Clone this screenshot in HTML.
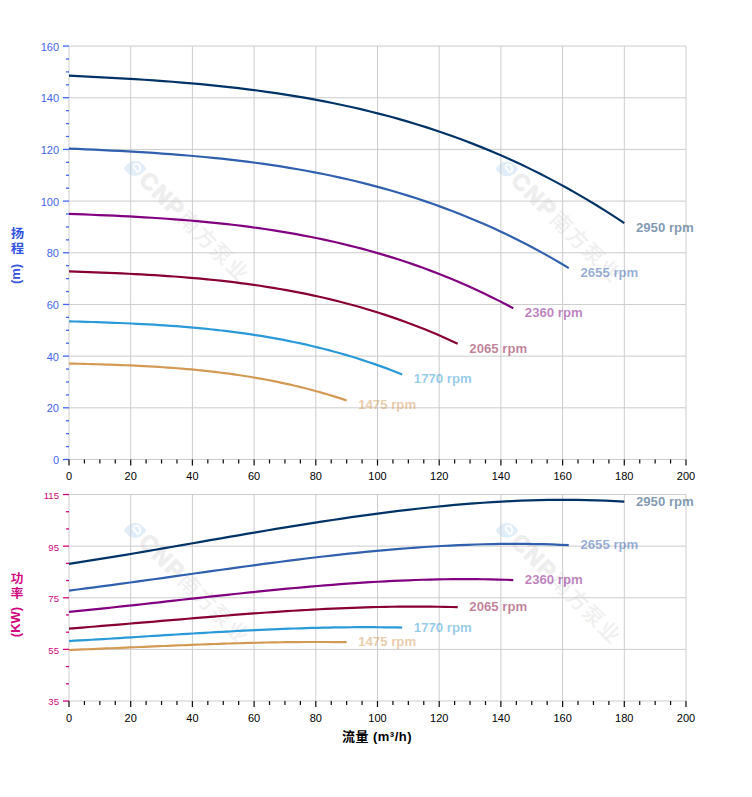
<!DOCTYPE html><html><head><meta charset="utf-8"><title>CNP</title><style>
html,body{margin:0;padding:0;background:#fff;}body{width:752px;height:797px;overflow:hidden;}
svg{display:block;}
.t{font-family:"Liberation Sans",Arial,sans-serif;}
.c{font-family:"Liberation Sans","Noto Sans CJK SC",sans-serif;}
</style></head><body>
<svg width="752" height="797" viewBox="0 0 752 797">
<rect width="752" height="797" fill="#fff"/>
<g transform="translate(135.0 167.0)"><path d="M-11.2 1.5 C-8 -3.5,-4.5 -6,0 -6 C4.5 -6,8 -3.5,11.2 1.5 C8 6.2,4.5 8.8,0 8.8 C-4.5 8.8,-8 6.2,-11.2 1.5Z" fill="#e1edf8"/><path d="M-2 -0.6 L3 5.6 M-1.8 -1.4 C-0.2 -4.2,4.6 -3.8,5.2 1 C5.4 3,4.4 4.2,3.4 4.4" fill="none" stroke="#fff" stroke-width="1.8"/><g transform="rotate(45)"><text x="12" y="8.2" class="t" font-size="23" font-weight="bold" letter-spacing="1.8" fill="#eeeeee" stroke="#eeeeee" stroke-width="1">CNP</text><text x="67" y="8" class="c" font-size="21" font-weight="500" letter-spacing="1.5" fill="#efefef">南方泵业</text></g></g>
<g transform="translate(507.0 167.5)"><path d="M-11.2 1.5 C-8 -3.5,-4.5 -6,0 -6 C4.5 -6,8 -3.5,11.2 1.5 C8 6.2,4.5 8.8,0 8.8 C-4.5 8.8,-8 6.2,-11.2 1.5Z" fill="#e1edf8"/><path d="M-2 -0.6 L3 5.6 M-1.8 -1.4 C-0.2 -4.2,4.6 -3.8,5.2 1 C5.4 3,4.4 4.2,3.4 4.4" fill="none" stroke="#fff" stroke-width="1.8"/><g transform="rotate(45)"><text x="12" y="8.2" class="t" font-size="23" font-weight="bold" letter-spacing="1.8" fill="#eeeeee" stroke="#eeeeee" stroke-width="1">CNP</text><text x="67" y="8" class="c" font-size="21" font-weight="500" letter-spacing="1.5" fill="#efefef">南方泵业</text></g></g>
<g transform="translate(135.0 529.0)"><path d="M-11.2 1.5 C-8 -3.5,-4.5 -6,0 -6 C4.5 -6,8 -3.5,11.2 1.5 C8 6.2,4.5 8.8,0 8.8 C-4.5 8.8,-8 6.2,-11.2 1.5Z" fill="#e1edf8"/><path d="M-2 -0.6 L3 5.6 M-1.8 -1.4 C-0.2 -4.2,4.6 -3.8,5.2 1 C5.4 3,4.4 4.2,3.4 4.4" fill="none" stroke="#fff" stroke-width="1.8"/><g transform="rotate(45)"><text x="12" y="8.2" class="t" font-size="23" font-weight="bold" letter-spacing="1.8" fill="#eeeeee" stroke="#eeeeee" stroke-width="1">CNP</text><text x="67" y="8" class="c" font-size="21" font-weight="500" letter-spacing="1.5" fill="#efefef">南方泵业</text></g></g>
<g transform="translate(507.0 529.0)"><path d="M-11.2 1.5 C-8 -3.5,-4.5 -6,0 -6 C4.5 -6,8 -3.5,11.2 1.5 C8 6.2,4.5 8.8,0 8.8 C-4.5 8.8,-8 6.2,-11.2 1.5Z" fill="#e1edf8"/><path d="M-2 -0.6 L3 5.6 M-1.8 -1.4 C-0.2 -4.2,4.6 -3.8,5.2 1 C5.4 3,4.4 4.2,3.4 4.4" fill="none" stroke="#fff" stroke-width="1.8"/><g transform="rotate(45)"><text x="12" y="8.2" class="t" font-size="23" font-weight="bold" letter-spacing="1.8" fill="#eeeeee" stroke="#eeeeee" stroke-width="1">CNP</text><text x="67" y="8" class="c" font-size="21" font-weight="500" letter-spacing="1.5" fill="#efefef">南方泵业</text></g></g>
<g stroke="#cccccc" stroke-width="1" fill="none"><line x1="69.00" y1="46.06" x2="69.00" y2="459.50"/><line x1="69.00" y1="494.52" x2="69.00" y2="701.00"/><line x1="130.70" y1="46.06" x2="130.70" y2="459.50"/><line x1="130.70" y1="494.52" x2="130.70" y2="701.00"/><line x1="192.40" y1="46.06" x2="192.40" y2="459.50"/><line x1="192.40" y1="494.52" x2="192.40" y2="701.00"/><line x1="254.10" y1="46.06" x2="254.10" y2="459.50"/><line x1="254.10" y1="494.52" x2="254.10" y2="701.00"/><line x1="315.80" y1="46.06" x2="315.80" y2="459.50"/><line x1="315.80" y1="494.52" x2="315.80" y2="701.00"/><line x1="377.50" y1="46.06" x2="377.50" y2="459.50"/><line x1="377.50" y1="494.52" x2="377.50" y2="701.00"/><line x1="439.20" y1="46.06" x2="439.20" y2="459.50"/><line x1="439.20" y1="494.52" x2="439.20" y2="701.00"/><line x1="500.90" y1="46.06" x2="500.90" y2="459.50"/><line x1="500.90" y1="494.52" x2="500.90" y2="701.00"/><line x1="562.60" y1="46.06" x2="562.60" y2="459.50"/><line x1="562.60" y1="494.52" x2="562.60" y2="701.00"/><line x1="624.30" y1="46.06" x2="624.30" y2="459.50"/><line x1="624.30" y1="494.52" x2="624.30" y2="701.00"/><line x1="686.00" y1="46.06" x2="686.00" y2="459.50"/><line x1="686.00" y1="494.52" x2="686.00" y2="701.00"/><line x1="69.00" y1="459.50" x2="686.00" y2="459.50"/><line x1="69.00" y1="407.82" x2="686.00" y2="407.82"/><line x1="69.00" y1="356.14" x2="686.00" y2="356.14"/><line x1="69.00" y1="304.46" x2="686.00" y2="304.46"/><line x1="69.00" y1="252.78" x2="686.00" y2="252.78"/><line x1="69.00" y1="201.10" x2="686.00" y2="201.10"/><line x1="69.00" y1="149.42" x2="686.00" y2="149.42"/><line x1="69.00" y1="97.74" x2="686.00" y2="97.74"/><line x1="69.00" y1="46.06" x2="686.00" y2="46.06"/><line x1="69.00" y1="701.00" x2="686.00" y2="701.00"/><line x1="69.00" y1="649.38" x2="686.00" y2="649.38"/><line x1="69.00" y1="597.76" x2="686.00" y2="597.76"/><line x1="69.00" y1="546.14" x2="686.00" y2="546.14"/><line x1="69.00" y1="494.52" x2="686.00" y2="494.52"/></g>
<g stroke="#4466ee" stroke-width="1.3"><line x1="63.00" y1="459.50" x2="69.00" y2="459.50"/><line x1="66.00" y1="446.58" x2="69.00" y2="446.58"/><line x1="66.00" y1="433.66" x2="69.00" y2="433.66"/><line x1="66.00" y1="420.74" x2="69.00" y2="420.74"/><line x1="63.00" y1="407.82" x2="69.00" y2="407.82"/><line x1="66.00" y1="394.90" x2="69.00" y2="394.90"/><line x1="66.00" y1="381.98" x2="69.00" y2="381.98"/><line x1="66.00" y1="369.06" x2="69.00" y2="369.06"/><line x1="63.00" y1="356.14" x2="69.00" y2="356.14"/><line x1="66.00" y1="343.22" x2="69.00" y2="343.22"/><line x1="66.00" y1="330.30" x2="69.00" y2="330.30"/><line x1="66.00" y1="317.38" x2="69.00" y2="317.38"/><line x1="63.00" y1="304.46" x2="69.00" y2="304.46"/><line x1="66.00" y1="291.54" x2="69.00" y2="291.54"/><line x1="66.00" y1="278.62" x2="69.00" y2="278.62"/><line x1="66.00" y1="265.70" x2="69.00" y2="265.70"/><line x1="63.00" y1="252.78" x2="69.00" y2="252.78"/><line x1="66.00" y1="239.86" x2="69.00" y2="239.86"/><line x1="66.00" y1="226.94" x2="69.00" y2="226.94"/><line x1="66.00" y1="214.02" x2="69.00" y2="214.02"/><line x1="63.00" y1="201.10" x2="69.00" y2="201.10"/><line x1="66.00" y1="188.18" x2="69.00" y2="188.18"/><line x1="66.00" y1="175.26" x2="69.00" y2="175.26"/><line x1="66.00" y1="162.34" x2="69.00" y2="162.34"/><line x1="63.00" y1="149.42" x2="69.00" y2="149.42"/><line x1="66.00" y1="136.50" x2="69.00" y2="136.50"/><line x1="66.00" y1="123.58" x2="69.00" y2="123.58"/><line x1="66.00" y1="110.66" x2="69.00" y2="110.66"/><line x1="63.00" y1="97.74" x2="69.00" y2="97.74"/><line x1="66.00" y1="84.82" x2="69.00" y2="84.82"/><line x1="66.00" y1="71.90" x2="69.00" y2="71.90"/><line x1="66.00" y1="58.98" x2="69.00" y2="58.98"/><line x1="63.00" y1="46.06" x2="69.00" y2="46.06"/></g>
<g stroke="#d0087f" stroke-width="1.3"><line x1="63.00" y1="701.00" x2="69.00" y2="701.00"/><line x1="66.00" y1="683.79" x2="69.00" y2="683.79"/><line x1="66.00" y1="666.59" x2="69.00" y2="666.59"/><line x1="63.00" y1="649.38" x2="69.00" y2="649.38"/><line x1="66.00" y1="632.17" x2="69.00" y2="632.17"/><line x1="66.00" y1="614.97" x2="69.00" y2="614.97"/><line x1="63.00" y1="597.76" x2="69.00" y2="597.76"/><line x1="66.00" y1="580.55" x2="69.00" y2="580.55"/><line x1="66.00" y1="563.35" x2="69.00" y2="563.35"/><line x1="63.00" y1="546.14" x2="69.00" y2="546.14"/><line x1="66.00" y1="528.93" x2="69.00" y2="528.93"/><line x1="66.00" y1="511.73" x2="69.00" y2="511.73"/><line x1="63.00" y1="494.52" x2="69.00" y2="494.52"/></g>
<g stroke="#111" stroke-width="1.25"><line x1="69.00" y1="459.50" x2="69.00" y2="465.50"/><line x1="84.42" y1="459.50" x2="84.42" y2="463.50"/><line x1="99.85" y1="459.50" x2="99.85" y2="463.50"/><line x1="115.28" y1="459.50" x2="115.28" y2="463.50"/><line x1="130.70" y1="459.50" x2="130.70" y2="465.50"/><line x1="146.12" y1="459.50" x2="146.12" y2="463.50"/><line x1="161.55" y1="459.50" x2="161.55" y2="463.50"/><line x1="176.97" y1="459.50" x2="176.97" y2="463.50"/><line x1="192.40" y1="459.50" x2="192.40" y2="465.50"/><line x1="207.82" y1="459.50" x2="207.82" y2="463.50"/><line x1="223.25" y1="459.50" x2="223.25" y2="463.50"/><line x1="238.68" y1="459.50" x2="238.68" y2="463.50"/><line x1="254.10" y1="459.50" x2="254.10" y2="465.50"/><line x1="269.52" y1="459.50" x2="269.52" y2="463.50"/><line x1="284.95" y1="459.50" x2="284.95" y2="463.50"/><line x1="300.38" y1="459.50" x2="300.38" y2="463.50"/><line x1="315.80" y1="459.50" x2="315.80" y2="465.50"/><line x1="331.23" y1="459.50" x2="331.23" y2="463.50"/><line x1="346.65" y1="459.50" x2="346.65" y2="463.50"/><line x1="362.07" y1="459.50" x2="362.07" y2="463.50"/><line x1="377.50" y1="459.50" x2="377.50" y2="465.50"/><line x1="392.93" y1="459.50" x2="392.93" y2="463.50"/><line x1="408.35" y1="459.50" x2="408.35" y2="463.50"/><line x1="423.77" y1="459.50" x2="423.77" y2="463.50"/><line x1="439.20" y1="459.50" x2="439.20" y2="465.50"/><line x1="454.62" y1="459.50" x2="454.62" y2="463.50"/><line x1="470.05" y1="459.50" x2="470.05" y2="463.50"/><line x1="485.48" y1="459.50" x2="485.48" y2="463.50"/><line x1="500.90" y1="459.50" x2="500.90" y2="465.50"/><line x1="516.33" y1="459.50" x2="516.33" y2="463.50"/><line x1="531.75" y1="459.50" x2="531.75" y2="463.50"/><line x1="547.17" y1="459.50" x2="547.17" y2="463.50"/><line x1="562.60" y1="459.50" x2="562.60" y2="465.50"/><line x1="578.02" y1="459.50" x2="578.02" y2="463.50"/><line x1="593.45" y1="459.50" x2="593.45" y2="463.50"/><line x1="608.88" y1="459.50" x2="608.88" y2="463.50"/><line x1="624.30" y1="459.50" x2="624.30" y2="465.50"/><line x1="639.73" y1="459.50" x2="639.73" y2="463.50"/><line x1="655.15" y1="459.50" x2="655.15" y2="463.50"/><line x1="670.58" y1="459.50" x2="670.58" y2="463.50"/><line x1="686.00" y1="459.50" x2="686.00" y2="465.50"/></g>
<g stroke="#111" stroke-width="1.25"><line x1="69.00" y1="701.00" x2="69.00" y2="707.00"/><line x1="84.42" y1="701.00" x2="84.42" y2="705.00"/><line x1="99.85" y1="701.00" x2="99.85" y2="705.00"/><line x1="115.28" y1="701.00" x2="115.28" y2="705.00"/><line x1="130.70" y1="701.00" x2="130.70" y2="707.00"/><line x1="146.12" y1="701.00" x2="146.12" y2="705.00"/><line x1="161.55" y1="701.00" x2="161.55" y2="705.00"/><line x1="176.97" y1="701.00" x2="176.97" y2="705.00"/><line x1="192.40" y1="701.00" x2="192.40" y2="707.00"/><line x1="207.82" y1="701.00" x2="207.82" y2="705.00"/><line x1="223.25" y1="701.00" x2="223.25" y2="705.00"/><line x1="238.68" y1="701.00" x2="238.68" y2="705.00"/><line x1="254.10" y1="701.00" x2="254.10" y2="707.00"/><line x1="269.52" y1="701.00" x2="269.52" y2="705.00"/><line x1="284.95" y1="701.00" x2="284.95" y2="705.00"/><line x1="300.38" y1="701.00" x2="300.38" y2="705.00"/><line x1="315.80" y1="701.00" x2="315.80" y2="707.00"/><line x1="331.23" y1="701.00" x2="331.23" y2="705.00"/><line x1="346.65" y1="701.00" x2="346.65" y2="705.00"/><line x1="362.07" y1="701.00" x2="362.07" y2="705.00"/><line x1="377.50" y1="701.00" x2="377.50" y2="707.00"/><line x1="392.93" y1="701.00" x2="392.93" y2="705.00"/><line x1="408.35" y1="701.00" x2="408.35" y2="705.00"/><line x1="423.77" y1="701.00" x2="423.77" y2="705.00"/><line x1="439.20" y1="701.00" x2="439.20" y2="707.00"/><line x1="454.62" y1="701.00" x2="454.62" y2="705.00"/><line x1="470.05" y1="701.00" x2="470.05" y2="705.00"/><line x1="485.48" y1="701.00" x2="485.48" y2="705.00"/><line x1="500.90" y1="701.00" x2="500.90" y2="707.00"/><line x1="516.33" y1="701.00" x2="516.33" y2="705.00"/><line x1="531.75" y1="701.00" x2="531.75" y2="705.00"/><line x1="547.17" y1="701.00" x2="547.17" y2="705.00"/><line x1="562.60" y1="701.00" x2="562.60" y2="707.00"/><line x1="578.02" y1="701.00" x2="578.02" y2="705.00"/><line x1="593.45" y1="701.00" x2="593.45" y2="705.00"/><line x1="608.88" y1="701.00" x2="608.88" y2="705.00"/><line x1="624.30" y1="701.00" x2="624.30" y2="707.00"/><line x1="639.73" y1="701.00" x2="639.73" y2="705.00"/><line x1="655.15" y1="701.00" x2="655.15" y2="705.00"/><line x1="670.58" y1="701.00" x2="670.58" y2="705.00"/><line x1="686.00" y1="701.00" x2="686.00" y2="707.00"/></g>
<g class="t" font-size="11" fill="#4466ee"><text x="59" y="464.1" text-anchor="end">0</text><text x="59" y="412.4" text-anchor="end">20</text><text x="59" y="360.7" text-anchor="end">40</text><text x="59" y="309.1" text-anchor="end">60</text><text x="59" y="257.4" text-anchor="end">80</text><text x="59" y="205.7" text-anchor="end">100</text><text x="59" y="154.0" text-anchor="end">120</text><text x="59" y="102.3" text-anchor="end">140</text><text x="59" y="50.7" text-anchor="end">160</text></g>
<g class="t" font-size="9.6" fill="#d0087f"><text x="59" y="705.4" text-anchor="end">35</text><text x="59" y="653.8" text-anchor="end">55</text><text x="59" y="602.2" text-anchor="end">75</text><text x="59" y="550.5" text-anchor="end">95</text><text x="59" y="498.9" text-anchor="end">115</text></g>
<g class="t" font-size="11" fill="#000"><text x="69.00" y="480.0" text-anchor="middle">0</text><text x="130.70" y="480.0" text-anchor="middle">20</text><text x="192.40" y="480.0" text-anchor="middle">40</text><text x="254.10" y="480.0" text-anchor="middle">60</text><text x="315.80" y="480.0" text-anchor="middle">80</text><text x="377.50" y="480.0" text-anchor="middle">100</text><text x="439.20" y="480.0" text-anchor="middle">120</text><text x="500.90" y="480.0" text-anchor="middle">140</text><text x="562.60" y="480.0" text-anchor="middle">160</text><text x="624.30" y="480.0" text-anchor="middle">180</text><text x="686.00" y="480.0" text-anchor="middle">200</text></g>
<g class="t" font-size="11" fill="#000"><text x="69.00" y="721.5" text-anchor="middle">0</text><text x="130.70" y="721.5" text-anchor="middle">20</text><text x="192.40" y="721.5" text-anchor="middle">40</text><text x="254.10" y="721.5" text-anchor="middle">60</text><text x="315.80" y="721.5" text-anchor="middle">80</text><text x="377.50" y="721.5" text-anchor="middle">100</text><text x="439.20" y="721.5" text-anchor="middle">120</text><text x="500.90" y="721.5" text-anchor="middle">140</text><text x="562.60" y="721.5" text-anchor="middle">160</text><text x="624.30" y="721.5" text-anchor="middle">180</text><text x="686.00" y="721.5" text-anchor="middle">200</text></g>
<path d="M69.00 75.67 L78.41 76.11 L87.82 76.57 L97.24 77.04 L106.65 77.54 L116.06 78.05 L125.47 78.59 L134.88 79.16 L144.29 79.76 L153.71 80.39 L163.12 81.06 L172.53 81.77 L181.94 82.53 L191.35 83.33 L200.77 84.18 L210.18 85.09 L219.59 86.05 L229.00 87.07 L238.41 88.15 L247.83 89.29 L257.24 90.50 L266.65 91.79 L276.06 93.14 L285.47 94.58 L294.88 96.09 L304.30 97.69 L313.71 99.38 L323.12 101.15 L332.53 103.01 L341.94 104.97 L351.36 107.03 L360.77 109.19 L370.18 111.46 L379.59 113.83 L389.00 116.31 L398.42 118.91 L407.83 121.62 L417.24 124.45 L426.65 127.41 L436.06 130.49 L445.47 133.69 L454.89 137.04 L464.30 140.51 L473.71 144.12 L483.12 147.88 L492.53 151.78 L501.95 155.82 L511.36 160.02 L520.77 164.36 L530.18 168.87 L539.59 173.53 L549.01 178.36 L558.42 183.35 L567.83 188.51 L577.24 193.84 L586.65 199.34 L596.06 205.03 L605.48 210.89 L614.89 216.93 L624.30 223.17" fill="none" stroke="#003366" stroke-width="2.2" stroke-linejoin="round"/>
<text class="t" x="635.9" y="232.0" font-size="13.2" font-weight="bold" fill="#003366" fill-opacity="0.5" stroke="#003366" stroke-opacity="0" stroke-width="0">2950 rpm</text>
<path d="M69.00 563.90 L78.41 562.45 L87.82 560.96 L97.24 559.45 L106.65 557.92 L116.06 556.37 L125.47 554.80 L134.88 553.21 L144.29 551.61 L153.71 550.00 L163.12 548.38 L172.53 546.75 L181.94 545.12 L191.35 543.48 L200.77 541.84 L210.18 540.20 L219.59 538.56 L229.00 536.93 L238.41 535.31 L247.83 533.70 L257.24 532.10 L266.65 530.51 L276.06 528.94 L285.47 527.38 L294.88 525.85 L304.30 524.34 L313.71 522.86 L323.12 521.40 L332.53 519.97 L341.94 518.57 L351.36 517.20 L360.77 515.87 L370.18 514.57 L379.59 513.32 L389.00 512.11 L398.42 510.94 L407.83 509.82 L417.24 508.74 L426.65 507.72 L436.06 506.75 L445.47 505.83 L454.89 504.97 L464.30 504.17 L473.71 503.43 L483.12 502.75 L492.53 502.14 L501.95 501.59 L511.36 501.12 L520.77 500.72 L530.18 500.39 L539.59 500.13 L549.01 499.96 L558.42 499.86 L567.83 499.85 L577.24 499.92 L586.65 500.08 L596.06 500.33 L605.48 500.67 L614.89 501.10 L624.30 501.63" fill="none" stroke="#003366" stroke-width="2.2" stroke-linejoin="round"/>
<text class="t" x="635.9" y="505.8" font-size="13.2" font-weight="bold" fill="#003366" fill-opacity="0.5" stroke="#003366" stroke-opacity="0" stroke-width="0">2950 rpm</text>
<path d="M69.00 148.60 L77.47 148.96 L85.94 149.33 L94.41 149.71 L102.88 150.11 L111.35 150.53 L119.82 150.96 L128.29 151.42 L136.77 151.91 L145.24 152.42 L153.71 152.97 L162.18 153.54 L170.65 154.15 L179.12 154.80 L187.59 155.49 L196.06 156.23 L204.53 157.00 L213.00 157.83 L221.47 158.70 L229.94 159.63 L238.41 160.61 L246.88 161.65 L255.35 162.75 L263.83 163.91 L272.30 165.14 L280.77 166.44 L289.24 167.80 L297.71 169.24 L306.18 170.75 L314.65 172.33 L323.12 174.00 L331.59 175.75 L340.06 177.59 L348.53 179.51 L357.00 181.52 L365.47 183.62 L373.94 185.82 L382.42 188.11 L390.89 190.50 L399.36 193.00 L407.83 195.60 L416.30 198.30 L424.77 201.12 L433.24 204.05 L441.71 207.09 L450.18 210.24 L458.65 213.52 L467.12 216.92 L475.59 220.44 L484.06 224.09 L492.53 227.87 L501.00 231.78 L509.48 235.82 L517.95 240.00 L526.42 244.31 L534.89 248.77 L543.36 253.38 L551.83 258.12 L560.30 263.02 L568.77 268.07" fill="none" stroke="#3060ae" stroke-width="2.2" stroke-linejoin="round"/>
<text class="t" x="580.4" y="276.9" font-size="13.2" font-weight="bold" fill="#3060ae" fill-opacity="0.5" stroke="#3060ae" stroke-opacity="0" stroke-width="0">2655 rpm</text>
<path d="M69.00 590.57 L77.47 589.50 L85.94 588.42 L94.41 587.32 L102.88 586.20 L111.35 585.07 L119.82 583.93 L128.29 582.77 L136.77 581.61 L145.24 580.43 L153.71 579.25 L162.18 578.06 L170.65 576.87 L179.12 575.67 L187.59 574.48 L196.06 573.28 L204.53 572.09 L213.00 570.90 L221.47 569.72 L229.94 568.55 L238.41 567.38 L246.88 566.22 L255.35 565.08 L263.83 563.94 L272.30 562.83 L280.77 561.72 L289.24 560.64 L297.71 559.58 L306.18 558.53 L314.65 557.51 L323.12 556.52 L331.59 555.55 L340.06 554.60 L348.53 553.69 L357.00 552.81 L365.47 551.95 L373.94 551.14 L382.42 550.35 L390.89 549.61 L399.36 548.90 L407.83 548.23 L416.30 547.60 L424.77 547.02 L433.24 546.48 L441.71 545.98 L450.18 545.54 L458.65 545.14 L467.12 544.79 L475.59 544.50 L484.06 544.26 L492.53 544.08 L501.00 543.95 L509.48 543.88 L517.95 543.87 L526.42 543.92 L534.89 544.04 L543.36 544.22 L551.83 544.47 L560.30 544.78 L568.77 545.17" fill="none" stroke="#3060ae" stroke-width="2.2" stroke-linejoin="round"/>
<text class="t" x="580.4" y="549.4" font-size="13.2" font-weight="bold" fill="#3060ae" fill-opacity="0.5" stroke="#3060ae" stroke-opacity="0" stroke-width="0">2655 rpm</text>
<path d="M69.00 213.85 L76.53 214.13 L84.06 214.42 L91.59 214.73 L99.12 215.04 L106.65 215.37 L114.18 215.72 L121.71 216.08 L129.24 216.46 L136.77 216.87 L144.29 217.30 L151.82 217.76 L159.35 218.24 L166.88 218.75 L174.41 219.30 L181.94 219.88 L189.47 220.49 L197.00 221.14 L204.53 221.83 L212.06 222.57 L219.59 223.34 L227.12 224.16 L234.65 225.03 L242.18 225.95 L249.71 226.92 L257.24 227.94 L264.77 229.02 L272.30 230.16 L279.83 231.35 L287.36 232.60 L294.88 233.92 L302.41 235.30 L309.94 236.75 L317.47 238.27 L325.00 239.86 L332.53 241.52 L340.06 243.26 L347.59 245.07 L355.12 246.96 L362.65 248.93 L370.18 250.98 L377.71 253.12 L385.24 255.35 L392.77 257.66 L400.30 260.06 L407.83 262.56 L415.36 265.15 L422.89 267.83 L430.42 270.61 L437.95 273.50 L445.47 276.48 L453.00 279.57 L460.53 282.76 L468.06 286.07 L475.59 289.48 L483.12 293.00 L490.65 296.64 L498.18 300.39 L505.71 304.26 L513.24 308.25" fill="none" stroke="#800080" stroke-width="2.2" stroke-linejoin="round"/>
<text class="t" x="524.8" y="317.0" font-size="13.2" font-weight="bold" fill="#800080" fill-opacity="0.5" stroke="#800080" stroke-opacity="0" stroke-width="0">2360 rpm</text>
<path d="M69.00 611.91 L76.53 611.17 L84.06 610.41 L91.59 609.64 L99.12 608.85 L106.65 608.06 L114.18 607.25 L121.71 606.44 L129.24 605.62 L136.77 604.80 L144.29 603.97 L151.82 603.13 L159.35 602.29 L166.88 601.46 L174.41 600.62 L181.94 599.78 L189.47 598.94 L197.00 598.11 L204.53 597.27 L212.06 596.45 L219.59 595.63 L227.12 594.82 L234.65 594.01 L242.18 593.22 L249.71 592.43 L257.24 591.66 L264.77 590.90 L272.30 590.15 L279.83 589.42 L287.36 588.70 L294.88 588.00 L302.41 587.32 L309.94 586.66 L317.47 586.02 L325.00 585.39 L332.53 584.80 L340.06 584.22 L347.59 583.67 L355.12 583.15 L362.65 582.65 L370.18 582.18 L377.71 581.74 L385.24 581.33 L392.77 580.95 L400.30 580.60 L407.83 580.29 L415.36 580.01 L422.89 579.77 L430.42 579.56 L437.95 579.39 L445.47 579.26 L453.00 579.17 L460.53 579.12 L468.06 579.12 L475.59 579.16 L483.12 579.24 L490.65 579.36 L498.18 579.54 L505.71 579.76 L513.24 580.03" fill="none" stroke="#800080" stroke-width="2.2" stroke-linejoin="round"/>
<text class="t" x="524.8" y="584.2" font-size="13.2" font-weight="bold" fill="#800080" fill-opacity="0.5" stroke="#800080" stroke-opacity="0" stroke-width="0">2360 rpm</text>
<path d="M69.00 271.42 L75.59 271.64 L82.18 271.86 L88.76 272.10 L95.35 272.34 L101.94 272.59 L108.53 272.85 L115.12 273.13 L121.71 273.43 L128.29 273.74 L134.88 274.07 L141.47 274.41 L148.06 274.78 L154.65 275.18 L161.24 275.59 L167.82 276.04 L174.41 276.51 L181.00 277.01 L187.59 277.54 L194.18 278.10 L200.77 278.69 L207.35 279.32 L213.94 279.99 L220.53 280.69 L227.12 281.43 L233.71 282.21 L240.30 283.04 L246.88 283.91 L253.47 284.82 L260.06 285.78 L266.65 286.79 L273.24 287.85 L279.83 288.96 L286.41 290.12 L293.00 291.34 L299.59 292.61 L306.18 293.94 L312.77 295.33 L319.36 296.77 L325.94 298.28 L332.53 299.86 L339.12 301.49 L345.71 303.20 L352.30 304.97 L358.89 306.81 L365.47 308.72 L372.06 310.70 L378.65 312.75 L385.24 314.88 L391.83 317.09 L398.42 319.38 L405.00 321.74 L411.59 324.19 L418.18 326.71 L424.77 329.33 L431.36 332.02 L437.95 334.81 L444.53 337.68 L451.12 340.64 L457.71 343.70" fill="none" stroke="#880033" stroke-width="2.2" stroke-linejoin="round"/>
<text class="t" x="469.3" y="352.5" font-size="13.2" font-weight="bold" fill="#880033" fill-opacity="0.5" stroke="#880033" stroke-opacity="0" stroke-width="0">2065 rpm</text>
<path d="M69.00 628.54 L75.59 628.04 L82.18 627.53 L88.76 627.01 L95.35 626.49 L101.94 625.96 L108.53 625.42 L115.12 624.87 L121.71 624.32 L128.29 623.77 L134.88 623.22 L141.47 622.66 L148.06 622.10 L154.65 621.53 L161.24 620.97 L167.82 620.41 L174.41 619.85 L181.00 619.29 L187.59 618.73 L194.18 618.18 L200.77 617.63 L207.35 617.09 L213.94 616.55 L220.53 616.01 L227.12 615.49 L233.71 614.97 L240.30 614.46 L246.88 613.96 L253.47 613.47 L260.06 612.99 L266.65 612.52 L273.24 612.06 L279.83 611.62 L286.41 611.19 L293.00 610.77 L299.59 610.37 L306.18 609.99 L312.77 609.62 L319.36 609.27 L325.94 608.94 L332.53 608.62 L339.12 608.33 L345.71 608.05 L352.30 607.80 L358.89 607.56 L365.47 607.35 L372.06 607.17 L378.65 607.00 L385.24 606.87 L391.83 606.75 L398.42 606.67 L405.00 606.61 L411.59 606.57 L418.18 606.57 L424.77 606.59 L431.36 606.65 L437.95 606.73 L444.53 606.85 L451.12 607.00 L457.71 607.18" fill="none" stroke="#880033" stroke-width="2.2" stroke-linejoin="round"/>
<text class="t" x="469.3" y="611.4" font-size="13.2" font-weight="bold" fill="#880033" fill-opacity="0.5" stroke="#880033" stroke-opacity="0" stroke-width="0">2065 rpm</text>
<path d="M69.00 321.32 L74.65 321.48 L80.29 321.64 L85.94 321.82 L91.59 321.99 L97.24 322.18 L102.88 322.37 L108.53 322.58 L114.18 322.79 L119.82 323.02 L125.47 323.26 L131.12 323.52 L136.77 323.79 L142.41 324.08 L148.06 324.39 L153.71 324.71 L159.35 325.06 L165.00 325.42 L170.65 325.81 L176.30 326.22 L181.94 326.66 L187.59 327.12 L193.24 327.61 L198.88 328.13 L204.53 328.67 L210.18 329.25 L215.83 329.86 L221.47 330.49 L227.12 331.16 L232.77 331.87 L238.41 332.61 L244.06 333.39 L249.71 334.20 L255.35 335.06 L261.00 335.95 L266.65 336.89 L272.30 337.86 L277.94 338.88 L283.59 339.95 L289.24 341.05 L294.88 342.21 L300.53 343.41 L306.18 344.66 L311.83 345.96 L317.47 347.32 L323.12 348.72 L328.77 350.18 L334.41 351.69 L340.06 353.25 L345.71 354.87 L351.36 356.55 L357.00 358.29 L362.65 360.09 L368.30 361.94 L373.94 363.86 L379.59 365.84 L385.24 367.89 L390.89 370.00 L396.53 372.18 L402.18 374.42" fill="none" stroke="#2b9ad8" stroke-width="2.2" stroke-linejoin="round"/>
<text class="t" x="413.8" y="383.2" font-size="13.2" font-weight="bold" fill="#2b9ad8" fill-opacity="0.5" stroke="#2b9ad8" stroke-opacity="0" stroke-width="0">1770 rpm</text>
<path d="M69.00 641.03 L74.65 640.72 L80.29 640.40 L85.94 640.07 L91.59 639.74 L97.24 639.41 L102.88 639.07 L108.53 638.73 L114.18 638.38 L119.82 638.03 L125.47 637.68 L131.12 637.33 L136.77 636.98 L142.41 636.62 L148.06 636.27 L153.71 635.91 L159.35 635.56 L165.00 635.21 L170.65 634.86 L176.30 634.51 L181.94 634.16 L187.59 633.82 L193.24 633.48 L198.88 633.15 L204.53 632.82 L210.18 632.49 L215.83 632.17 L221.47 631.85 L227.12 631.54 L232.77 631.24 L238.41 630.95 L244.06 630.66 L249.71 630.38 L255.35 630.11 L261.00 629.85 L266.65 629.59 L272.30 629.35 L277.94 629.12 L283.59 628.90 L289.24 628.69 L294.88 628.49 L300.53 628.30 L306.18 628.13 L311.83 627.97 L317.47 627.83 L323.12 627.69 L328.77 627.58 L334.41 627.47 L340.06 627.39 L345.71 627.31 L351.36 627.26 L357.00 627.22 L362.65 627.20 L368.30 627.20 L373.94 627.21 L379.59 627.25 L385.24 627.30 L390.89 627.38 L396.53 627.47 L402.18 627.58" fill="none" stroke="#2b9ad8" stroke-width="2.2" stroke-linejoin="round"/>
<text class="t" x="413.8" y="631.8" font-size="13.2" font-weight="bold" fill="#2b9ad8" fill-opacity="0.5" stroke="#2b9ad8" stroke-opacity="0" stroke-width="0">1770 rpm</text>
<path d="M69.00 363.54 L73.71 363.65 L78.41 363.77 L83.12 363.89 L87.82 364.01 L92.53 364.14 L97.24 364.27 L101.94 364.41 L106.65 364.56 L111.35 364.72 L116.06 364.89 L120.77 365.07 L125.47 365.26 L130.18 365.46 L134.88 365.67 L139.59 365.90 L144.29 366.14 L149.00 366.39 L153.71 366.66 L158.41 366.95 L163.12 367.25 L167.82 367.57 L172.53 367.91 L177.24 368.27 L181.94 368.65 L186.65 369.05 L191.35 369.47 L196.06 369.91 L200.77 370.38 L205.47 370.87 L210.18 371.38 L214.88 371.92 L219.59 372.49 L224.30 373.08 L229.00 373.70 L233.71 374.35 L238.41 375.03 L243.12 375.74 L247.83 376.48 L252.53 377.25 L257.24 378.05 L261.94 378.88 L266.65 379.75 L271.36 380.66 L276.06 381.59 L280.77 382.57 L285.47 383.58 L290.18 384.63 L294.88 385.72 L299.59 386.84 L304.30 388.01 L309.00 389.21 L313.71 390.46 L318.41 391.75 L323.12 393.08 L327.83 394.46 L332.53 395.88 L337.24 397.35 L341.94 398.86 L346.65 400.42" fill="none" stroke="#d39a55" stroke-width="2.2" stroke-linejoin="round"/>
<text class="t" x="358.2" y="409.2" font-size="13.2" font-weight="bold" fill="#d39a55" fill-opacity="0.5" stroke="#d39a55" stroke-opacity="0" stroke-width="0">1475 rpm</text>
<path d="M69.00 649.99 L73.71 649.81 L78.41 649.62 L83.12 649.43 L87.82 649.24 L92.53 649.05 L97.24 648.85 L101.94 648.65 L106.65 648.45 L111.35 648.25 L116.06 648.05 L120.77 647.84 L125.47 647.64 L130.18 647.43 L134.88 647.23 L139.59 647.02 L144.29 646.82 L149.00 646.62 L153.71 646.41 L158.41 646.21 L163.12 646.01 L167.82 645.81 L172.53 645.62 L177.24 645.42 L181.94 645.23 L186.65 645.04 L191.35 644.86 L196.06 644.67 L200.77 644.50 L205.47 644.32 L210.18 644.15 L214.88 643.98 L219.59 643.82 L224.30 643.66 L229.00 643.51 L233.71 643.37 L238.41 643.23 L243.12 643.09 L247.83 642.96 L252.53 642.84 L257.24 642.73 L261.94 642.62 L266.65 642.52 L271.36 642.43 L276.06 642.34 L280.77 642.27 L285.47 642.20 L290.18 642.14 L294.88 642.09 L299.59 642.05 L304.30 642.02 L309.00 641.99 L313.71 641.98 L318.41 641.98 L323.12 641.99 L327.83 642.01 L332.53 642.04 L337.24 642.08 L341.94 642.14 L346.65 642.20" fill="none" stroke="#d39a55" stroke-width="2.2" stroke-linejoin="round"/>
<text class="t" x="358.2" y="646.4" font-size="13.2" font-weight="bold" fill="#d39a55" fill-opacity="0.5" stroke="#d39a55" stroke-opacity="0" stroke-width="0">1475 rpm</text>
<g class="c" font-size="12" font-weight="bold" fill="#3355dd"><text transform="translate(17.5 238) scale(1.12 1)" text-anchor="middle">扬</text><text transform="translate(17.5 253) scale(1.12 1)" text-anchor="middle">程</text><text class="t" font-size="13" transform="translate(20 274) rotate(-90)" text-anchor="middle">(m)</text></g>
<g class="c" font-size="12" font-weight="bold" fill="#d0087f"><text transform="translate(17 583) scale(1.06 1)" text-anchor="middle">功</text><text transform="translate(17 598) scale(1.06 1)" text-anchor="middle">率</text><text class="t" font-size="13" transform="translate(20 622) rotate(-90)" text-anchor="middle">(KW)</text></g>
<text class="c" x="342" y="741" font-size="13" font-weight="bold" fill="#000" textLength="69.5" lengthAdjust="spacing">流量 (m³/h)</text>
</svg></body></html>
